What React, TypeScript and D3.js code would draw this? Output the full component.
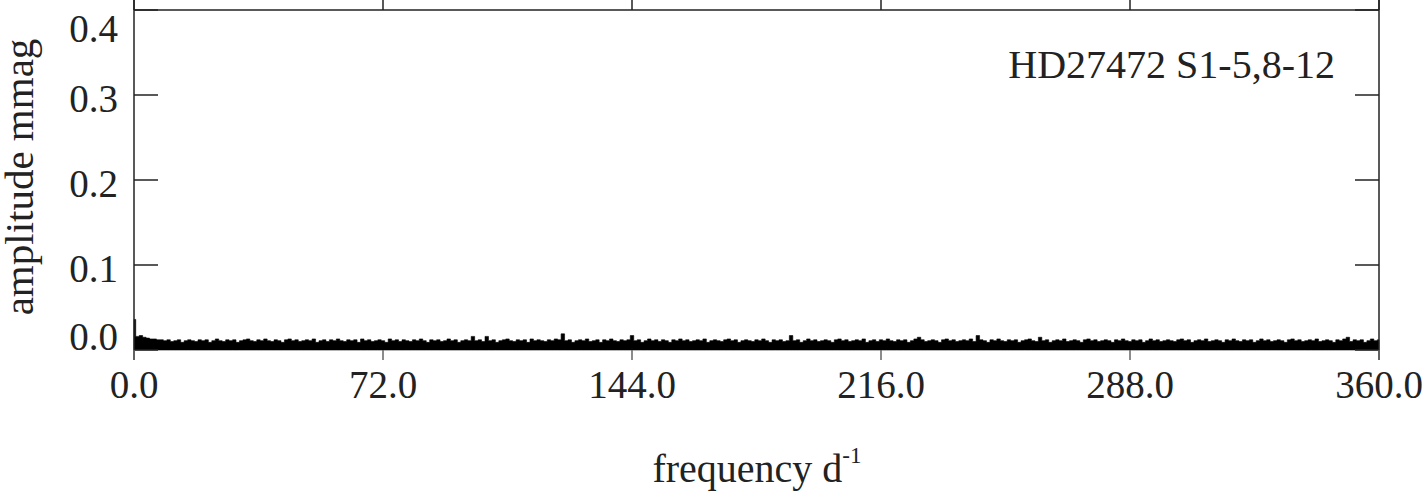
import React, { useEffect, useRef } from 'react'
import * as d3 from 'd3'

// periodogram amplitude (mmag), one value per 1 d^-1 from 0 to 360
const freqStep = 1.0
const amplitude = [
  0.036, 0.016, 0.017, 0.015, 0.014, 0.013, 0.013, 0.012, 0.012, 0.011, 0.012, 0.010, 0.011, 0.012, 0.009, 0.011, 0.012, 0.011, 0.010, 0.012,
  0.011, 0.012, 0.009, 0.011, 0.013, 0.011, 0.010, 0.012, 0.011, 0.012, 0.009, 0.011, 0.012, 0.013, 0.011, 0.010, 0.012, 0.011, 0.013, 0.011,
  0.010, 0.012, 0.011, 0.009, 0.012, 0.013, 0.011, 0.012, 0.010, 0.011, 0.012, 0.011, 0.013, 0.009, 0.011, 0.012, 0.010, 0.012, 0.011, 0.013,
  0.011, 0.010, 0.012, 0.011, 0.012, 0.009, 0.013, 0.011, 0.012, 0.010, 0.011, 0.012, 0.011, 0.009, 0.013, 0.011, 0.012, 0.010, 0.012, 0.011,
  0.010, 0.012, 0.011, 0.013, 0.011, 0.009, 0.012, 0.011, 0.012, 0.010, 0.011, 0.013, 0.011, 0.012, 0.009, 0.011, 0.012, 0.011, 0.016, 0.011,
  0.012, 0.010, 0.016, 0.011, 0.012, 0.009, 0.011, 0.012, 0.013, 0.011, 0.010, 0.012, 0.011, 0.012, 0.009, 0.013, 0.011, 0.012, 0.011, 0.010,
  0.012, 0.011, 0.013, 0.012, 0.019, 0.011, 0.012, 0.009, 0.011, 0.012, 0.011, 0.013, 0.010, 0.011, 0.012, 0.009, 0.012, 0.011, 0.013, 0.011,
  0.010, 0.012, 0.011, 0.012, 0.017, 0.011, 0.012, 0.009, 0.011, 0.013, 0.011, 0.012, 0.010, 0.012, 0.011, 0.009, 0.012, 0.011, 0.013, 0.011,
  0.012, 0.010, 0.011, 0.012, 0.011, 0.013, 0.009, 0.011, 0.012, 0.011, 0.010, 0.012, 0.013, 0.011, 0.012, 0.009, 0.011, 0.012, 0.011, 0.010,
  0.012, 0.011, 0.013, 0.011, 0.009, 0.012, 0.011, 0.012, 0.010, 0.011, 0.017, 0.011, 0.012, 0.009, 0.011, 0.013, 0.011, 0.012, 0.010, 0.011,
  0.012, 0.011, 0.009, 0.012, 0.013, 0.011, 0.012, 0.010, 0.011, 0.012, 0.011, 0.013, 0.009, 0.011, 0.012, 0.010, 0.012, 0.011, 0.013, 0.011,
  0.010, 0.012, 0.011, 0.012, 0.009, 0.011, 0.013, 0.015, 0.012, 0.010, 0.011, 0.012, 0.011, 0.009, 0.012, 0.013, 0.011, 0.012, 0.010, 0.011,
  0.012, 0.011, 0.013, 0.010, 0.017, 0.012, 0.011, 0.009, 0.012, 0.011, 0.013, 0.011, 0.010, 0.012, 0.011, 0.012, 0.009, 0.011, 0.012, 0.013,
  0.011, 0.010, 0.015, 0.011, 0.012, 0.009, 0.011, 0.012, 0.011, 0.013, 0.010, 0.011, 0.012, 0.011, 0.009, 0.012, 0.013, 0.011, 0.012, 0.010,
  0.011, 0.012, 0.011, 0.009, 0.012, 0.011, 0.013, 0.011, 0.010, 0.012, 0.011, 0.012, 0.009, 0.011, 0.013, 0.011, 0.012, 0.010, 0.011, 0.012,
  0.011, 0.010, 0.012, 0.013, 0.011, 0.012, 0.009, 0.011, 0.012, 0.011, 0.013, 0.010, 0.011, 0.012, 0.011, 0.009, 0.012, 0.011, 0.013, 0.011,
  0.010, 0.012, 0.011, 0.012, 0.009, 0.011, 0.013, 0.011, 0.012, 0.010, 0.011, 0.012, 0.011, 0.009, 0.012, 0.013, 0.011, 0.012, 0.010, 0.011,
  0.012, 0.011, 0.013, 0.010, 0.011, 0.012, 0.011, 0.009, 0.012, 0.011, 0.013, 0.015, 0.010, 0.012, 0.011, 0.012, 0.009, 0.011, 0.013, 0.011,
  0.012
]

const xTicks = [0, 72, 144, 216, 288, 360]
const xTickLabels = ['0.0', '72.0', '144.0', '216.0', '288.0', '360.0']
const yTicks = [0, 0.1, 0.2, 0.3, 0.4]
const yTickLabels = ['0.0', '0.1', '0.2', '0.3', '0.4']
const starLabel = 'HD27472 S1-5,8-12'

const W = 1423, H = 491
const left = 134, right = 1379, top = 10, base = 350, bottom = 360
const font = 'Liberation Serif, Times New Roman, serif'
const ink = '#222'

export default function App() {
  const ref = useRef<SVGSVGElement>(null)

  useEffect(() => {
    const svg = d3.select(ref.current)
    svg.selectAll('*').remove()

    const x = d3.scaleLinear().domain([0, 360]).range([left, right])
    const y = d3.scaleLinear().domain([0, 0.4]).range([base, top])

    // spectrum
    const area = d3.area<number>()
      .x((d, i) => x(i * freqStep))
      .y0(y(0))
      .y1(d => y(d))
      .curve(d3.curveStep)
    svg.append('path')
      .attr('d', area(amplitude))
      .attr('fill', '#000')
      .attr('stroke', '#000')
      .attr('stroke-width', 0.6)

    // frame
    const frame = svg.append('g').attr('stroke', ink).attr('stroke-width', 1.5).attr('fill', 'none')
    frame.append('line').attr('x1', left).attr('x2', left).attr('y1', 0).attr('y2', bottom)
    frame.append('line').attr('x1', right).attr('x2', right).attr('y1', 0).attr('y2', bottom)
    frame.append('line').attr('x1', left).attr('x2', right).attr('y1', top).attr('y2', top)

    // y ticks both sides
    yTicks.forEach(t => {
      frame.append('line').attr('x1', left).attr('x2', left + 24).attr('y1', y(t)).attr('y2', y(t))
      frame.append('line').attr('x1', right - 24).attr('x2', right).attr('y1', y(t)).attr('y2', y(t))
    })
    // x ticks top and bottom
    xTicks.forEach(t => {
      frame.append('line').attr('x1', x(t)).attr('x2', x(t)).attr('y1', 0).attr('y2', top)
      frame.append('line').attr('x1', x(t)).attr('x2', x(t)).attr('y1', base).attr('y2', bottom)
        .attr('stroke', '#666')
    })

    const txt = svg.append('g').attr('font-family', font).attr('fill', ink)

    yTicks.forEach((t, i) => {
      txt.append('text')
        .attr('x', 118).attr('y', Math.min(Math.max(y(t) + 17, 42), 350))
        .attr('text-anchor', 'end').attr('font-size', 39)
        .text(yTickLabels[i])
    })

    xTicks.forEach((t, i) => {
      txt.append('text')
        .attr('x', x(t)).attr('y', 398)
        .attr('text-anchor', 'middle').attr('font-size', 39)
        .text(xTickLabels[i])
    })

    const xt = txt.append('text')
      .attr('x', 757).attr('y', 482)
      .attr('text-anchor', 'middle').attr('font-size', 40)
    xt.append('tspan').text('frequency d')
    xt.append('tspan').attr('font-size', 23).attr('dy', -19).text('-1')

    txt.append('text')
      .attr('transform', 'translate(33,177) rotate(-90)')
      .attr('text-anchor', 'middle').attr('font-size', 41)
      .text('amplitude mmag')

    txt.append('text')
      .attr('x', 1335).attr('y', 78)
      .attr('text-anchor', 'end').attr('font-size', 40)
      .text(starLabel)
  }, [])

  return (
    <svg ref={ref} width={W} height={H}
      style={{ position: 'absolute', left: 0, top: 0, background: '#fff' }} />
  )
}
